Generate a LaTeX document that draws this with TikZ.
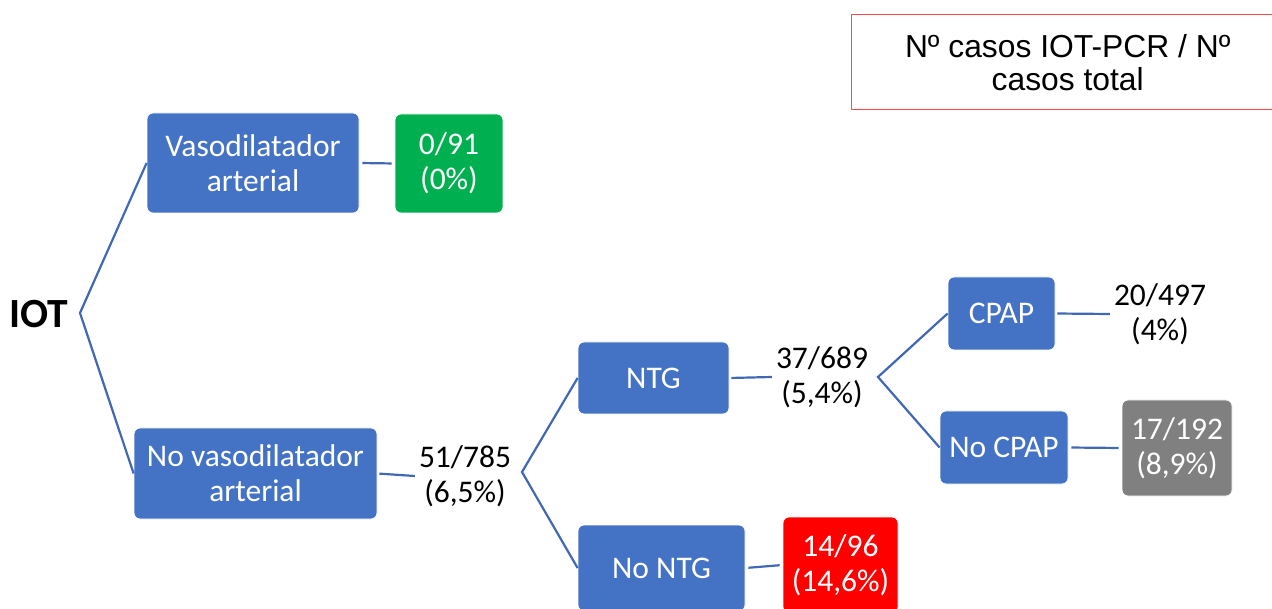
\documentclass[tikz,border=0pt]{standalone}
\usepackage{fontspec}
\setmainfont{Carlito}
\newfontfamily\legendfont{Liberation Sans}
\definecolor{boxblue}{HTML}{4472C4}
\definecolor{lineblue}{HTML}{4068B4}
\definecolor{okgreen}{HTML}{00B050}
\definecolor{badred}{HTML}{FF0000}
\definecolor{midgray}{HTML}{808080}
\definecolor{framered}{HTML}{FF4A4A}
\begin{document}
\begin{tikzpicture}[x=1pt,y=-1pt,
  box/.style={fill=boxblue, draw=white, line width=0.8pt, rounded corners=6pt,
    text=white, align=center, inner sep=0pt,
    font=\fontsize{31.5}{35}\selectfont},
  result/.style={box, fill=#1},
  count/.style={align=center, inner sep=4pt, font=\fontsize{31.5}{35}\selectfont},
  link/.style={draw=lineblue, line width=2.2pt},
  gap/.style={link, shorten <=3pt, shorten >=3pt}]
\useasboundingbox (0,0) rectangle (1272,609);
\begin{scope}
\clip (0,0) rectangle (1272,609);

% legend
\node[draw=framered, line width=1.4pt, minimum width=432pt, minimum height=95pt,
  inner sep=0pt, anchor=north west, align=center,
  font=\legendfont\fontsize{31.8}{33}\selectfont] (legend) at (851,14)
  {Nº casos IOT-PCR / Nº\\casos total};

% root
\node[font=\bfseries\fontsize{41.5}{44}\selectfont, inner sep=0pt] (iot) at (39,314) {IOT};
\coordinate (split0) at (80,313);

% first level
\node[box, minimum width=212pt, minimum height=100pt] (vaso) at (253,163) {Vasodilatador\\arterial};
\node[result=okgreen, minimum width=108pt, minimum height=99pt] (r1) at (449,163.5) {0/91\\(0\%)};
\node[box, minimum width=243pt, minimum height=91pt] (novaso) at (255.5,473.5) {No vasodilatador\\arterial};
\node[count] (c1) at (465,476) {51/785\\(6,5\%)};
\coordinate (split1) at (522,472);

% second level
\node[box, minimum width=151pt, minimum height=72pt] (ntg) at (653.5,378) {NTG};
\node[count] (c2) at (822,377) {37/689\\(5,4\%)};
\coordinate (split2) at (878,377);
\node[box, minimum width=167pt, minimum height=86pt] (nontg) at (661.5,568) {No NTG};
\node[result=badred, minimum width=115pt, minimum height=96pt] (r4) at (840.5,565) {14/96\\(14,6\%)};

% third level
\node[box, minimum width=107pt, minimum height=73pt] (cpap) at (1001.5,313.5) {CPAP};
\node[count] (c3) at (1160,314) {20/497\\(4\%)};
\node[box, minimum width=128pt, minimum height=73pt] (nocpap) at (1004,447.5) {No CPAP};
\node[result=midgray, minimum width=110pt, minimum height=96pt] (r3) at (1177,448) {17/192\\(8,9\%)};

% connectors
\draw[link] (vaso.west) -- (split0) -- (novaso.west);
\draw[gap] (vaso.east) -- (r1.west);
\draw[link, shorten <=2pt] (novaso.east) -- (c1.west);
\draw[link] (ntg.west) -- (split1) -- (nontg.west);
\draw[link, shorten <=2pt] (ntg.east) -- (c2.west);
\draw[gap] (nontg.east) -- (r4.west);
\draw[link] (cpap.west) -- (split2) -- (nocpap.west);
\draw[link, shorten <=2pt] (cpap.east) -- (c3.west);
\draw[gap] (nocpap.east) -- (r3.west);
\end{scope}
\end{tikzpicture}
\end{document}
